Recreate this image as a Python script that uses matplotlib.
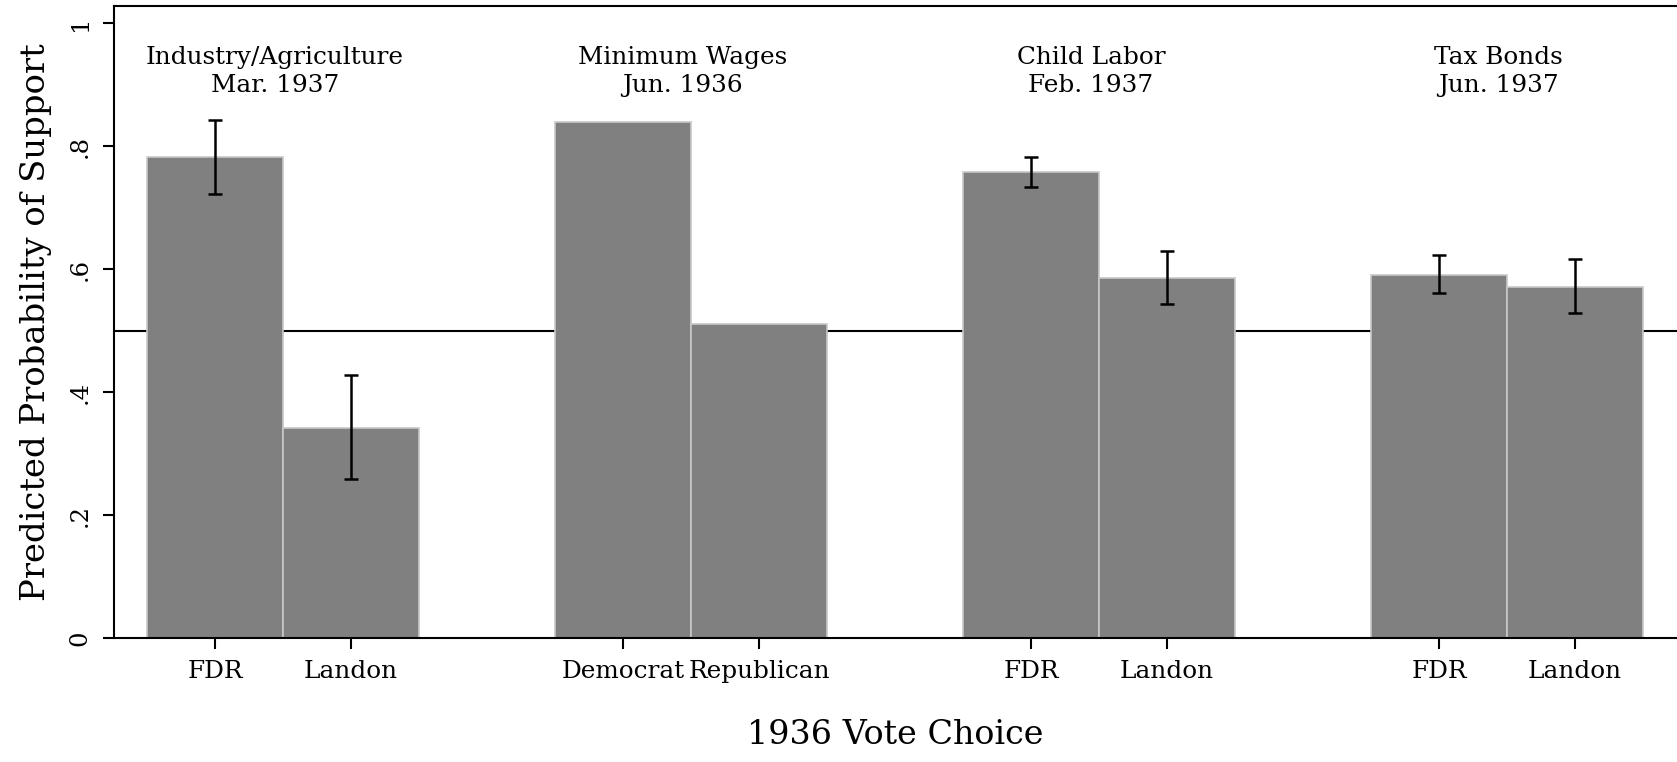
import matplotlib.pyplot as plt
import numpy as np

plt.rcParams['font.family'] = ['DejaVu Serif']

# data
groups = ["Industry/Agriculture\nMar. 1937", "Minimum Wages\nJun. 1936",
          "Child Labor\nFeb. 1937", "Tax Bonds\nJun. 1937"]
bar_labels = ["FDR", "Landon", "Democrat", "Republican",
              "FDR", "Landon", "FDR", "Landon"]
probs = [0.783, 0.342, 0.840, 0.510, 0.758, 0.586, 0.590, 0.571]
ci_low = [0.723, 0.258, np.nan, np.nan, 0.734, 0.544, 0.561, 0.528]
ci_high = [0.843, 0.427, np.nan, np.nan, 0.782, 0.630, 0.623, 0.617]

y_ticks = [0, 0.2, 0.4, 0.6, 0.8, 1]
y_ticklabels = ["0", ".2", ".4", ".6", ".8", "1"]

fig = plt.figure(figsize=(16.77, 7.62), dpi=100)
ax = fig.add_axes([114/1677, 1-638/762, 1-114/1677, (638-6)/762])

centers = np.arange(len(groups)) * 3 + 1
xpos = np.ravel([[c - 0.5, c + 0.5] for c in centers])

ax.axhline(0.5, color='black', lw=1.5, zorder=1)
ax.bar(xpos, probs, width=1.0, color='#808080', edgecolor='#c8c8c8',
       linewidth=1.2, zorder=2)

lo = np.array(probs) - np.array(ci_low)
hi = np.array(ci_high) - np.array(probs)
mask = ~np.isnan(lo)
ax.errorbar(xpos[mask], np.array(probs)[mask], yerr=[lo[mask], hi[mask]],
            fmt='none', ecolor='black', elinewidth=1.8, capsize=5,
            capthick=1.8, zorder=3)

for c, g in zip(centers, groups):
    ax.text(c - 0.06, 0.922, g, ha='center', va='center', fontsize=17.8,
            linespacing=1.27)

ax.set_xlim(-0.243, 11.25)
ax.set_ylim(0, 1.028)
ax.set_yticks(y_ticks)
ax.set_yticklabels(y_ticklabels, rotation=90, va='center', fontsize=17.5)
ax.set_xticks(xpos)
ax.set_xticklabels(bar_labels, fontsize=17.8)
ax.tick_params(axis='both', length=8, width=1.5, pad=8)

for s in ['left', 'bottom', 'top']:
    ax.spines[s].set_linewidth(1.5)
ax.spines['right'].set_visible(False)

ax.set_ylabel("Predicted Probability of Support", fontsize=24.4, labelpad=12)
ax.set_xlabel("1936 Vote Choice", fontsize=24, labelpad=26)

fig.savefig("out.png", dpi=100)
